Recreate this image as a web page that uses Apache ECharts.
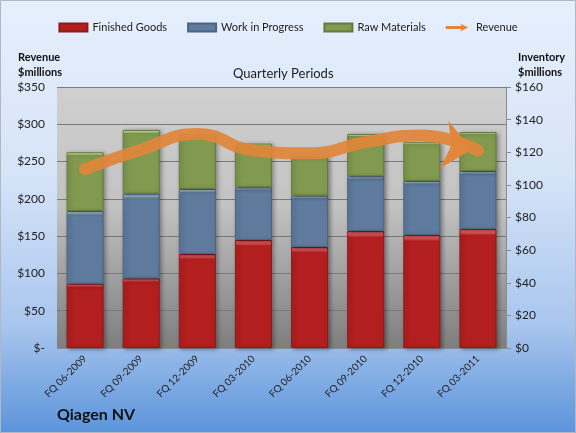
<!DOCTYPE html>
<html>
<head>
<meta charset="utf-8">
<script src="https://cdn.jsdelivr.net/npm/echarts@6/dist/echarts.min.js"></script>
<style>
  html, body { margin: 0; padding: 0; }
  #main { width: 576px; height: 433px; }
</style>
</head>
<body>
<div id="main"></div>
<script>
var quarters = ['FQ 06-2009', 'FQ 09-2009', 'FQ 12-2009', 'FQ 03-2010', 'FQ 06-2010', 'FQ 09-2010', 'FQ 12-2010', 'FQ 03-2011'];
var finishedGoods = [39.4, 42.7, 57.6, 66.2, 61.9, 71.7, 69.3, 73.0];
var workInProgress = [44.6, 51.9, 39.9, 32.3, 31.5, 33.6, 33.1, 35.5];
var rawMaterials = [36.0, 39.1, 33.5, 26.8, 23.9, 25.9, 23.7, 23.9];
var revenue = [240, 266, 287, 265, 261, 276, 285, 265];

var FONT = 'Lato';
var chart = echarts.init(document.getElementById('main'));

// bar fill with a thin light strip on top, like the bevel in the original
function bevel(base, light) {
  return {
    type: 'linear', x: 0, y: 0, x2: 0, y2: 1,
    colorStops: [
      { offset: 0, color: light },
      { offset: 0.03, color: light },
      { offset: 0.055, color: base },
      { offset: 1, color: base }
    ]
  };
}

function barSeries(name, data, base, light, border) {
  return {
    name: name,
    type: 'bar',
    stack: 'inv',
    yAxisIndex: 1,
    barWidth: '66%',
    data: data,
    itemStyle: {
      color: bevel(base, light),
      borderColor: border,
      borderWidth: 1,
      shadowColor: 'rgba(0,0,0,0.35)',
      shadowBlur: 4,
      shadowOffsetX: 2,
      shadowOffsetY: 1
    }
  };
}

// last point carries the arrow head
var revData = revenue.map(function (v, i) {
  if (i === revenue.length - 1) {
    return {
      value: v,
      symbol: 'arrow',
      symbolSize: [36, 28],
      symbolRotate: -100,
      symbolOffset: [-6, -1]
    };
  }
  return v;
});

var orange = '#E1863A';

var option = {
  backgroundColor: {
    type: 'linear', x: 0, y: 0, x2: 0, y2: 1,
    colorStops: [
      { offset: 0, color: '#E6EFFC' },
      { offset: 0.4, color: '#D6E4F8' },
      { offset: 0.75, color: '#A9C6EE' },
      { offset: 1, color: '#5B94DB' }
    ]
  },
  textStyle: { fontFamily: FONT },
  title: [
    { text: 'Quarterly Periods', left: 228, top: 62,
      textStyle: { fontSize: 13, fontWeight: 'normal', color: '#222', fontFamily: FONT } },
    { text: 'Revenue\n$millions', left: 13, top: 45,
      textStyle: { fontSize: 11, fontWeight: 'bold', color: '#111', lineHeight: 15, fontFamily: FONT } },
    { text: 'Inventory\n$millions', left: 513, top: 45,
      textStyle: { fontSize: 11, fontWeight: 'bold', color: '#111', lineHeight: 15, fontFamily: FONT } },
    { text: 'Qiagen NV', left: 52, top: 402,
      textStyle: { fontSize: 16, fontWeight: 'bold', color: '#111', fontFamily: FONT } }
  ],
  legend: {
    top: 17,
    left: 'center',
    itemWidth: 28,
    itemHeight: 8,
    itemGap: 20,
    textStyle: { fontSize: 11, color: '#222', fontFamily: FONT },
    data: [
      { name: 'Finished Goods', icon: 'rect' },
      { name: 'Work in Progress', icon: 'rect' },
      { name: 'Raw Materials', icon: 'rect' },
      { name: 'Revenue', icon: 'path://M0,3 L20,3 L18,0 L28,5 L18,10 L20,7 L0,7 Z' }
    ]
  },
  grid: {
    left: 57, right: 70, top: 87, bottom: 85,
    show: true,
    borderWidth: 0,
    backgroundColor: {
      type: 'linear', x: 0, y: 0, x2: 0, y2: 1,
      colorStops: [
        { offset: 0, color: '#CFCFCF' },
        { offset: 0.45, color: '#C3C3C3' },
        { offset: 1, color: '#7E7E7E' }
      ]
    }
  },
  xAxis: {
    type: 'category',
    data: quarters,
    axisLine: { lineStyle: { color: '#8C8C8C' } },
    axisTick: { show: false },
    axisLabel: { rotate: 45, fontSize: 10, color: '#222', margin: 9, fontFamily: FONT }
  },
  yAxis: [
    {
      type: 'value',
      min: 0, max: 350, interval: 50,
      axisLine: { show: false },
      axisTick: { show: false },
      axisLabel: {
        fontSize: 12, color: '#222', margin: 12, fontFamily: FONT,
        formatter: function (v) { return v === 0 ? '$-' : '$' + v; }
      },
      splitLine: { lineStyle: { color: '#7A7A7A', width: 1 } }
    },
    {
      type: 'value',
      min: 0, max: 160, interval: 20,
      position: 'right',
      axisLine: { show: true, lineStyle: { color: '#8C8C8C' } },
      axisTick: { show: true, length: 5, lineStyle: { color: '#8C8C8C' } },
      axisLabel: {
        fontSize: 12, color: '#222', margin: 9, fontFamily: FONT,
        formatter: function (v) { return '$' + v; }
      },
      splitLine: { show: false }
    }
  ],
  series: [
    barSeries('Finished Goods', finishedGoods, '#B31F1F', '#E0585A', '#8E1A1A'),
    barSeries('Work in Progress', workInProgress, '#5F7C9E', '#9DB6D6', '#4C6480'),
    barSeries('Raw Materials', rawMaterials, '#819A50', '#BCD48A', '#657A3E'),
    {
      name: 'Revenue',
      type: 'line',
      yAxisIndex: 0,
      smooth: 0.5,
      symbol: 'none',
      showSymbol: true,
      data: revData,
      z: 5,
      color: orange,
      itemStyle: { color: orange, opacity: 1 },
      lineStyle: { width: 12, color: orange, cap: 'round', join: 'round', opacity: 0.92 }
    }
  ],
  graphic: [
    { type: 'rect', shape: { x: 0.5, y: 0.5, width: 575, height: 432 },
      style: { fill: 'none', stroke: '#B0B8C4', lineWidth: 1 }, silent: true }
  ]
};

chart.setOption(option);
</script>
</body>
</html>
